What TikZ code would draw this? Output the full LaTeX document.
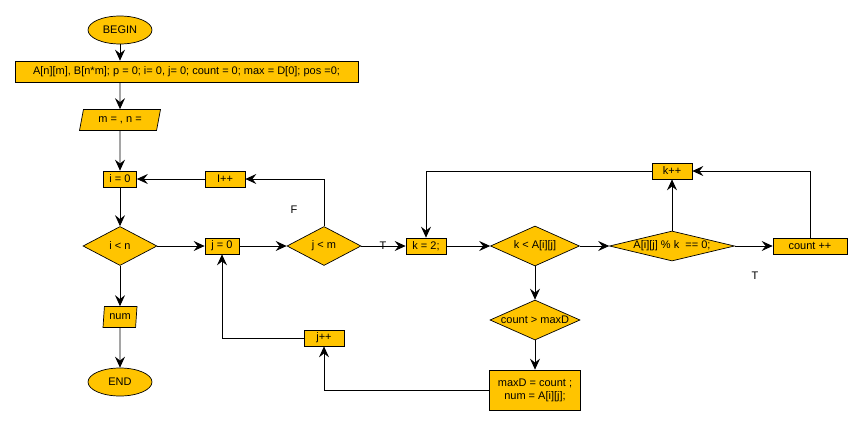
\documentclass[tikz,border=0pt]{standalone}
\usepackage{fontspec}
\setmainfont{Liberation Sans}
\usetikzlibrary{positioning,shapes.geometric,arrows.meta}
\definecolor{boxfill}{RGB}{255,196,0}

\begin{document}
\begin{tikzpicture}[x=1pt,y=-1pt,font=\fontsize{11}{13}\selectfont]
  \tikzset{base/.style={draw,fill=boxfill,line width=0.7pt,inner sep=1pt}}
  \tikzset{terminal/.style={base,ellipse,minimum width=64pt,minimum height=28pt}}
  \tikzset{process/.style={base,rectangle,minimum height=16pt}}
  \tikzset{decision/.style={base,diamond,minimum width=74pt,minimum height=39pt,inner sep=0pt}}
  \tikzset{io/.style={base,trapezium,trapezium left angle=67,trapezium right angle=113,trapezium stretches body,minimum height=21pt}}
  \tikzset{flow/.style={draw,line width=0.8pt,-{Stealth[length=11pt,width=10pt,inset=4pt]}}}
  \useasboundingbox (0,0) rectangle (863,426);

  \node[terminal] (begin) at (120,30) {BEGIN};
  \node[process,minimum width=343pt,minimum height=21pt] (init) at (186.5,71.5)
    {A[n][m], B[n*m]; p = 0; i= 0, j= 0; count = 0; max = D[0]; pos =0;};
  \node[io,minimum width=81pt] (input) at (120,120) {m = , n =};
  \node[process,minimum width=33pt] (iinit) at (120,179) {i = 0};
  \node[process,minimum width=40pt] (iinc) at (225,179) {I++};
  \node[decision,aspect=1.9] (icond) at (120,246) {i < n};
  \node[io,minimum width=34pt,trapezium left angle=80,trapezium right angle=100] (out) at (120,317) {num};
  \node[terminal] (end) at (120,382) {END};
  \node[process,minimum width=34pt] (jinit) at (222,246) {j = 0};
  \node[decision,aspect=1.9] (jcond) at (324,246) {j < m};
  \node[process,minimum width=40pt] (jinc) at (324,338) {j++};
  \node[process,minimum width=40pt] (kinit) at (426,246) {k = 2;};
  \node[decision,minimum width=89pt,minimum height=40pt,aspect=2.2] (kcond) at (535,246) {k < A[i][j]};
  \node[decision,minimum width=125pt,minimum height=30pt,aspect=4.2,inner xsep=-4pt] (divcond) at (672,246) {A[i][j] \% k~~== 0;};
  \node[process,minimum width=40pt] (kinc) at (672,171) {k++};
  \node[process,minimum width=74pt] (cinc) at (810,246) {count ++};
  \node[decision,minimum width=90pt,minimum height=40pt,aspect=2.25,inner xsep=-4pt] (maxcond) at (535,320) {count > maxD};
  \node[process,minimum width=91pt,minimum height=40pt,align=center] (update) at (535,390)
    {maxD = count ;\\ num = A[i][j];};
  \node (flabel) at (294,210) {F};
  \node (tlabel) at (383,246) {T};
  \node (tlabel2) at (755,276) {T};

  % main column
  \draw[flow] (begin) -- (begin |- init.north);
  \draw[flow] (init.south -| input) -- (input);
  \draw[flow] (input) -- (iinit);
  \draw[flow] (iinit) -- (icond);
  \draw[flow] (icond) -- (out);
  \draw[flow] (out) -- (end);
  % j loop
  \draw[flow] (icond) -- (jinit);
  \draw[flow] (jinit) -- (jcond);
  \draw[flow] (jcond) -- (kinit);
  \draw[flow] (jcond.north) |- (iinc.east);
  \draw[flow] (iinc) -- (iinit);
  % k loop
  \draw[flow] (kinit) -- (kcond);
  \draw[flow] (kcond) -- (divcond);
  \draw[flow] (divcond) -- (cinc);
  \draw[flow] (divcond) -- (kinc);
  \draw[flow] (cinc.north) |- (kinc.east);
  \draw[flow] (kinc.west) -| (kinit.north);
  % max check
  \draw[flow] (kcond) -- (maxcond);
  \draw[flow] (maxcond) -- (update);
  \draw[flow] (update.west) -| (jinc.south);
  \draw[flow] (jinc.west) -| (jinit.south);
\end{tikzpicture}
\end{document}
